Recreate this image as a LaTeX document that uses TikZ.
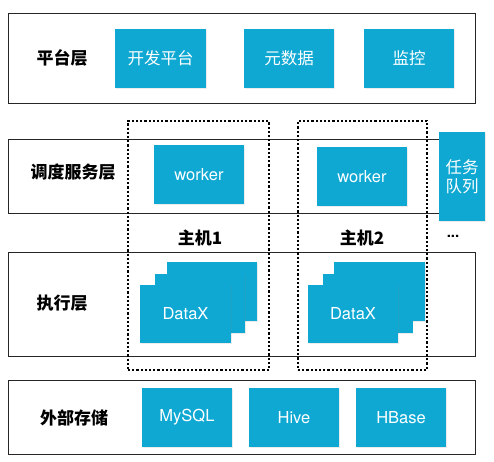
\documentclass[tikz,border=0pt]{standalone}
\usepackage{fontspec}
\setsansfont{TeX Gyre Heros}
\newfontfamily\cjk{Noto Sans CJK SC}
\usepackage{xcolor}
\usepackage{tikz}
\usetikzlibrary{shadows}
\definecolor{boxblue}{RGB}{14,168,211}
\begin{document}
\begin{tikzpicture}[x=1pt,y=-1pt,
		layer/.style={draw=black!85, line width=0.8pt, minimum width=467pt, inner sep=0pt},
		host/.style={draw, line width=1.3pt, dash pattern=on 2.2pt off 2pt, inner sep=0pt},
		bluebox/.style={fill=boxblue, text=white, inner sep=0pt, minimum width=90pt, minimum height=59pt,
			font=\sffamily\fontsize{16.5}{19}\selectfont, drop shadow={opacity=0.15, shadow xshift=0.6pt, shadow yshift=-1pt}},
		cnbox/.style={bluebox, font=\cjk\fontsize{16.5}{19}\selectfont},
		layername/.style={font=\cjk\bfseries\fontsize{17}{20}\selectfont},
	]
		\useasboundingbox (0,0) rectangle (494,461);
		\node[layer, minimum height=90pt] (platform) at (241.5,58) {};
		\node[layername] (platname) at (62,58) {平台层};
		\node[cnbox, minimum width=91pt] (devplat) at (160.5,58.5) {开发平台};
		\node[cnbox] (metadata) at (289,58.5) {元数据};
		\node[cnbox] (monitor) at (409,58.5) {监控};

		\node[layer, minimum height=74pt] (sched) at (241.5,176) {};
		\node[layername] (schedname) at (73,172) {调度服务层};

		\node[layer, minimum height=104pt] (exec) at (241.5,304) {};
		\node[layername] (execname) at (62,303) {执行层};

		\node[host, minimum width=141pt, minimum height=249pt] (hostA) at (198.5,245.5) {};
		\node[host, minimum width=129pt, minimum height=249pt] (hostB) at (362.5,245.5) {};
		\node[layername] (hostAname) at (200,238) {主机1};
		\node[layername] (hostBname) at (362,238) {主机2};
		\node[font=\sffamily\bfseries\fontsize{15}{18}\selectfont] (more) at (453,236) {...};

		\node[bluebox] (workerA) at (199,174.5) {worker};
		\node[bluebox] (workerB) at (362,176.5) {worker};
		\node[cnbox, minimum width=46pt, minimum height=89pt, align=center, drop shadow={opacity=0}] (queue) at (462,176.5) {任务\\队列};

		\node[bluebox] (dataxA3) at (212,291.5) {};
		\node[bluebox] (dataxA2) at (200,303.5) {};
		\node[bluebox, minimum width=91pt, minimum height=58pt] (dataxA1) at (185.5,314) {\raisebox{-2pt}{DataX}};
		\node[bluebox, minimum width=91pt] (dataxB3) at (379.5,291.5) {};
		\node[bluebox] (dataxB2) at (367.5,303.5) {};
		\node[bluebox, minimum height=58pt] (dataxB1) at (353,314) {\raisebox{-2pt}{DataX}};

		\node[layer, minimum height=74pt] (storage) at (241.5,417) {};
		\node[layername] (storname) at (74,418) {外部存储};
		\node[bluebox] (mysql) at (187,417.5) {MySQL};
		\node[bluebox] (hive) at (294,417.5) {Hive};
		\node[bluebox] (hbase) at (401,417.5) {HBase};
	\end{tikzpicture}
\end{document}
